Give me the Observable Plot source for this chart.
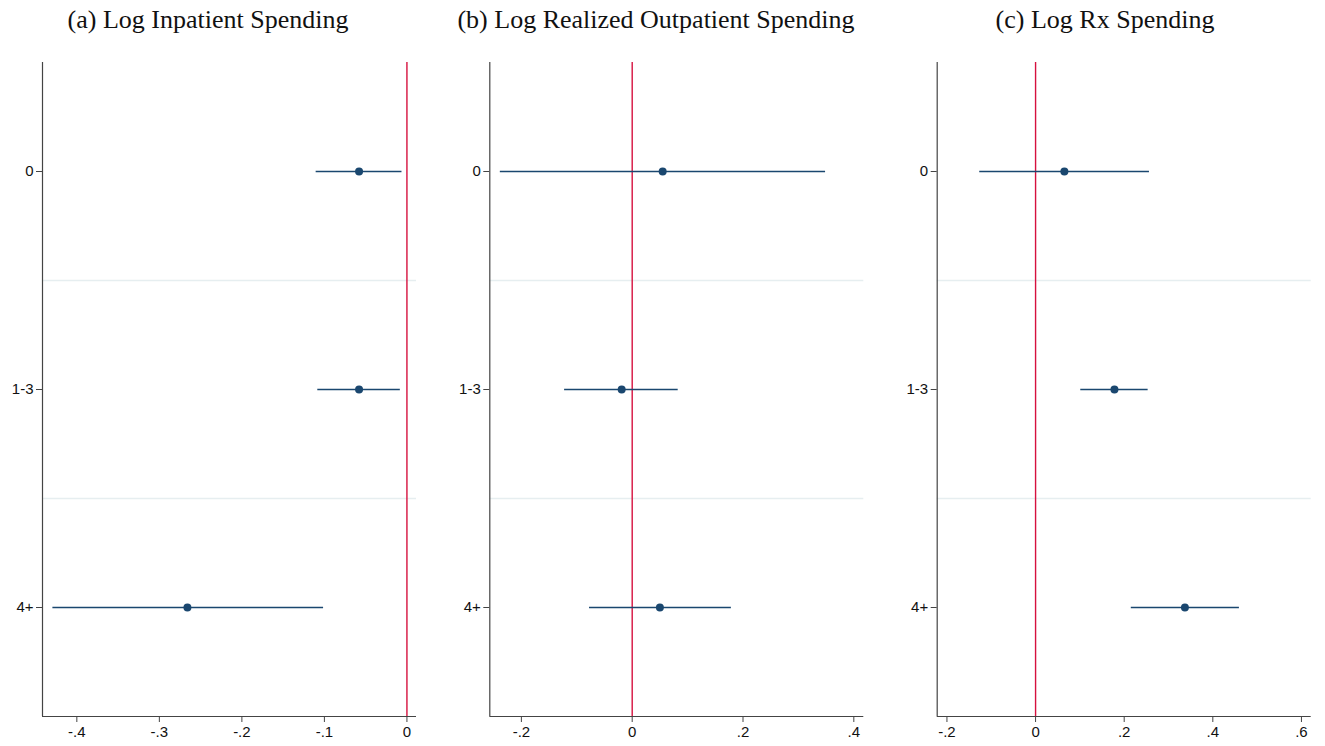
<!DOCTYPE html>
<html>
<head>
<meta charset="utf-8">
<script src="https://cdn.jsdelivr.net/npm/d3@7"></script>
<script src="https://cdn.jsdelivr.net/npm/@observablehq/plot@0.6"></script>
<style>
  html, body { margin: 0; padding: 0; background: #fff; }
  #root { position: relative; width: 1325px; height: 746px; overflow: hidden; }
  .title { position: absolute; top: 5px; height: 30px; line-height: 30px; font-family: "Liberation Serif", "DejaVu Serif", serif; font-size: 26px; color: #111; white-space: nowrap; transform: translateX(-50%); }
  .panel { position: absolute; top: 40px; }
  .panel text { font-size: 15px; }
</style>
</head>
<body>
<div id="root"></div>
<script>
// Categories shown on the y axis, top to bottom
const categories = ["0", "1-3", "4+"];

// Panel titles
const titles = [
  "(a) Log Inpatient Spending",
  "(b) Log Realized Outpatient Spending",
  "(c) Log Rx Spending"
];

// Point estimates and confidence intervals per panel
const inpatientEst = [-0.058, -0.058, -0.266];
const inpatientLo  = [-0.110, -0.108, -0.429];
const inpatientHi  = [-0.006, -0.008, -0.101];

const outpatientEst = [0.055, -0.019, 0.050];
const outpatientLo  = [-0.238, -0.122, -0.077];
const outpatientHi  = [0.349, 0.083, 0.179];

const rxEst = [0.065, 0.178, 0.337];
const rxLo  = [-0.126, 0.102, 0.216];
const rxHi  = [0.257, 0.254, 0.460];

// X tick values per panel
const ticksA = [-0.4, -0.3, -0.2, -0.1, 0];
const ticksB = [-0.2, 0, 0.2, 0.4];
const ticksC = [-0.2, 0, 0.2, 0.4, 0.6];

// X domains per panel
const domainA = [-0.4416, 0.0116];
const domainB = [-0.257, 0.418];
const domainC = [-0.222, 0.622];

const panels = [
  {title: titles[0], est: inpatientEst, lo: inpatientLo, hi: inpatientHi, ticks: ticksA, domain: domainA,
   left: 0, width: 430, ml: 42, mr: 14, titleX: 208},
  {title: titles[1], est: outpatientEst, lo: outpatientLo, hi: outpatientHi, ticks: ticksB, domain: domainB,
   left: 440, width: 440, ml: 49.3, mr: 16.7, titleX: 656},
  {title: titles[2], est: rxEst, lo: rxLo, hi: rxHi, ticks: ticksC, domain: domainC,
   left: 890, width: 435, ml: 46.7, mr: 14.3, titleX: 1105}
];

const fmt = d => {
  if (Math.abs(d) < 1e-9) return "0";
  const s = d3.format(".1f")(d).replace("\u2212", "-");
  return s.replace(/^(-?)0\./, "$1.");
};

const root = document.getElementById("root");
const navy = "#1a476f";
const red = "#d6103e";
const axisColor = "#444";

for (const p of panels) {
  const rows = categories.map((c, i) => ({cat: c, pos: i + 1, est: p.est[i], lo: p.lo[i], hi: p.hi[i]}));
  const gridPos = categories.slice(1).map((c, i) => i + 1.5);

  const t = document.createElement("div");
  t.className = "title";
  t.style.left = p.titleX + "px";
  t.textContent = p.title;
  root.appendChild(t);

  const chart = Plot.plot({
    width: p.width,
    height: 706,
    marginTop: 22,
    marginBottom: 30,
    marginLeft: p.ml,
    marginRight: p.mr,
    style: {fontFamily: "'Liberation Sans', Arial, sans-serif", fontSize: "15px", color: "#111", background: "white"},
    x: {domain: p.domain},
    y: {domain: [3.5, 0.5]},
    marks: [
      Plot.ruleY(gridPos, {stroke: "#e6eef0", strokeWidth: 1.5}),
      Plot.ruleX([0], {stroke: red, strokeWidth: 1.4}),
      Plot.ruleY(rows, {y: "pos", x1: "lo", x2: "hi", stroke: navy, strokeWidth: 1.3}),
      Plot.dot(rows, {y: "pos", x: "est", r: 4, fill: navy, stroke: "none"}),
      Plot.ruleX([p.domain[0]], {stroke: axisColor, strokeWidth: 1.2}),
      Plot.ruleY([3.5], {stroke: axisColor, strokeWidth: 1.2}),
      Plot.axisY({ticks: rows.map(r => r.pos), tickFormat: d => categories[d - 1], tickSize: 6, tickPadding: 3, stroke: axisColor, label: null, fontSize: 15}),
      Plot.axisX({ticks: p.ticks, tickFormat: fmt, tickSize: 6, tickPadding: 4, stroke: axisColor, label: null, fontSize: 15})
    ]
  });
  chart.classList.add("panel");
  chart.style.left = p.left + "px";
  root.appendChild(chart);
}
</script>
</body>
</html>
